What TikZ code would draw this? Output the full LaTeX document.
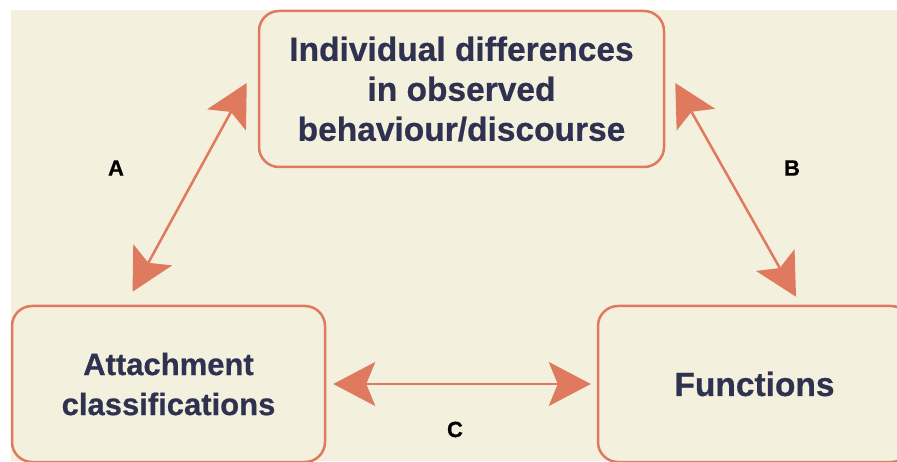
\documentclass[tikz,border=0pt]{standalone}
\usepackage{fontspec}
\setmainfont{Liberation Sans}
\newfontfamily\boxfont[FakeBold=0.6]{Liberation Sans Bold}
\usetikzlibrary{arrows.meta}
\definecolor{cream}{HTML}{F4F0DE}
\definecolor{coral}{HTML}{E07A5F}
\definecolor{navy}{HTML}{2E3250}

\begin{document}
\begin{tikzpicture}[x=1pt,y=1pt,
	box/.style={draw=coral, line width=2.5pt, rounded corners=20pt, minimum width=313pt, minimum height=156pt, inner sep=0pt, align=center, text=navy, font=\boxfont\fontsize{33.5}{40}\selectfont},
	link/.style={draw=coral, line width=2.5pt, {Stealth[length=42pt,width=44pt,inset=9pt]}-{Stealth[length=42pt,width=44pt,inset=9pt]}},
	tag/.style={font=\boxfont\fontsize{22}{24}\selectfont}]
		
		% Fix the page and paint the background
		\useasboundingbox (0,0) rectangle (897,461);
		\clip (0,0) rectangle (897,461);
		\fill[white] (0,0) rectangle (897,461);
		\fill[cream] (11,0) rectangle (897,451);
		
		% Draw the boxes
		\node[box, minimum width=405pt] (indiv) at (461.5,372) {Individual differences\\in observed\\behaviour/discourse};
		\node[box, font=\boxfont\fontsize{31}{40}\selectfont] (attach) at (168.5,77) {Attachment\\classifications};
		\node[box] (func) at (754.5,77) {Functions};
		
		% Draw the links between the boxes
		\draw[link] ([shift={(-36,13)}]attach.north) -- ([shift={(-11,6)}]indiv.west);
		\draw[link] ([shift={(10,6)}]indiv.east) -- ([shift={(41.5,8)}]func.north);
		\draw[link] ([xshift=7]attach.east) -- ([xshift=-6]func.west);
		
		% Draw the link labels
		\node[tag] (labA) at (116,293) {A};
		\node[tag] (labB) at (792,293) {B};
		\node[tag] (labC) at (455,31.5) {C};
		
	\end{tikzpicture}
\end{document}
